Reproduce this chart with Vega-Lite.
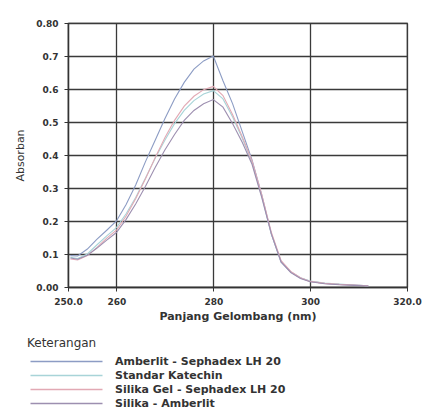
{
  "$schema": "https://vega.github.io/schema/vega-lite/v6.json",
  "width": 339,
  "height": 264,
  "autosize": {"type": "none"},
  "padding": {"left": 68, "top": 23, "right": 22, "bottom": 127},
  "background": "white",
  "config": {
    "font": "DejaVu Sans",
    "view": {"stroke": "#444", "strokeWidth": 1.2},
    "axis": {"gridColor": "#3a3a3a", "gridWidth": 1.3, "gridOpacity": 1, "domainColor": "#333", "domainWidth": 1.3, "tickColor": "#333", "labelColor": "#333", "titleColor": "#333"}
  },
  "data": {"values": [
    {"wavelength": 250.5, "absorbance": 0.095, "sample": "Amberlit - Sephadex LH 20"},
    {"wavelength": 252, "absorbance": 0.094, "sample": "Amberlit - Sephadex LH 20"},
    {"wavelength": 254, "absorbance": 0.115, "sample": "Amberlit - Sephadex LH 20"},
    {"wavelength": 256, "absorbance": 0.145, "sample": "Amberlit - Sephadex LH 20"},
    {"wavelength": 258, "absorbance": 0.172, "sample": "Amberlit - Sephadex LH 20"},
    {"wavelength": 260, "absorbance": 0.2, "sample": "Amberlit - Sephadex LH 20"},
    {"wavelength": 262, "absorbance": 0.25, "sample": "Amberlit - Sephadex LH 20"},
    {"wavelength": 264, "absorbance": 0.31, "sample": "Amberlit - Sephadex LH 20"},
    {"wavelength": 266, "absorbance": 0.38, "sample": "Amberlit - Sephadex LH 20"},
    {"wavelength": 268, "absorbance": 0.445, "sample": "Amberlit - Sephadex LH 20"},
    {"wavelength": 270, "absorbance": 0.51, "sample": "Amberlit - Sephadex LH 20"},
    {"wavelength": 272, "absorbance": 0.57, "sample": "Amberlit - Sephadex LH 20"},
    {"wavelength": 274, "absorbance": 0.62, "sample": "Amberlit - Sephadex LH 20"},
    {"wavelength": 276, "absorbance": 0.66, "sample": "Amberlit - Sephadex LH 20"},
    {"wavelength": 278, "absorbance": 0.685, "sample": "Amberlit - Sephadex LH 20"},
    {"wavelength": 280, "absorbance": 0.7, "sample": "Amberlit - Sephadex LH 20"},
    {"wavelength": 282, "absorbance": 0.625, "sample": "Amberlit - Sephadex LH 20"},
    {"wavelength": 284, "absorbance": 0.555, "sample": "Amberlit - Sephadex LH 20"},
    {"wavelength": 286, "absorbance": 0.47, "sample": "Amberlit - Sephadex LH 20"},
    {"wavelength": 288, "absorbance": 0.385, "sample": "Amberlit - Sephadex LH 20"},
    {"wavelength": 290, "absorbance": 0.28, "sample": "Amberlit - Sephadex LH 20"},
    {"wavelength": 292, "absorbance": 0.16, "sample": "Amberlit - Sephadex LH 20"},
    {"wavelength": 294, "absorbance": 0.075, "sample": "Amberlit - Sephadex LH 20"},
    {"wavelength": 296, "absorbance": 0.045, "sample": "Amberlit - Sephadex LH 20"},
    {"wavelength": 298, "absorbance": 0.027, "sample": "Amberlit - Sephadex LH 20"},
    {"wavelength": 300, "absorbance": 0.017, "sample": "Amberlit - Sephadex LH 20"},
    {"wavelength": 303, "absorbance": 0.011, "sample": "Amberlit - Sephadex LH 20"},
    {"wavelength": 306, "absorbance": 0.008, "sample": "Amberlit - Sephadex LH 20"},
    {"wavelength": 309, "absorbance": 0.006, "sample": "Amberlit - Sephadex LH 20"},
    {"wavelength": 312, "absorbance": 0.004, "sample": "Amberlit - Sephadex LH 20"},
    {"wavelength": 250.5, "absorbance": 0.09, "sample": "Standar Katechin"},
    {"wavelength": 252, "absorbance": 0.086, "sample": "Standar Katechin"},
    {"wavelength": 254, "absorbance": 0.1, "sample": "Standar Katechin"},
    {"wavelength": 256, "absorbance": 0.128, "sample": "Standar Katechin"},
    {"wavelength": 258, "absorbance": 0.155, "sample": "Standar Katechin"},
    {"wavelength": 260, "absorbance": 0.18, "sample": "Standar Katechin"},
    {"wavelength": 262, "absorbance": 0.222, "sample": "Standar Katechin"},
    {"wavelength": 264, "absorbance": 0.272, "sample": "Standar Katechin"},
    {"wavelength": 266, "absorbance": 0.33, "sample": "Standar Katechin"},
    {"wavelength": 268, "absorbance": 0.39, "sample": "Standar Katechin"},
    {"wavelength": 270, "absorbance": 0.445, "sample": "Standar Katechin"},
    {"wavelength": 272, "absorbance": 0.495, "sample": "Standar Katechin"},
    {"wavelength": 274, "absorbance": 0.535, "sample": "Standar Katechin"},
    {"wavelength": 276, "absorbance": 0.565, "sample": "Standar Katechin"},
    {"wavelength": 278, "absorbance": 0.585, "sample": "Standar Katechin"},
    {"wavelength": 280, "absorbance": 0.595, "sample": "Standar Katechin"},
    {"wavelength": 282, "absorbance": 0.57, "sample": "Standar Katechin"},
    {"wavelength": 284, "absorbance": 0.515, "sample": "Standar Katechin"},
    {"wavelength": 286, "absorbance": 0.45, "sample": "Standar Katechin"},
    {"wavelength": 288, "absorbance": 0.378, "sample": "Standar Katechin"},
    {"wavelength": 290, "absorbance": 0.275, "sample": "Standar Katechin"},
    {"wavelength": 292, "absorbance": 0.16, "sample": "Standar Katechin"},
    {"wavelength": 294, "absorbance": 0.078, "sample": "Standar Katechin"},
    {"wavelength": 296, "absorbance": 0.046, "sample": "Standar Katechin"},
    {"wavelength": 298, "absorbance": 0.028, "sample": "Standar Katechin"},
    {"wavelength": 300, "absorbance": 0.018, "sample": "Standar Katechin"},
    {"wavelength": 303, "absorbance": 0.012, "sample": "Standar Katechin"},
    {"wavelength": 306, "absorbance": 0.009, "sample": "Standar Katechin"},
    {"wavelength": 309, "absorbance": 0.006, "sample": "Standar Katechin"},
    {"wavelength": 312, "absorbance": 0.004, "sample": "Standar Katechin"},
    {"wavelength": 250.5, "absorbance": 0.085, "sample": "Silika Gel - Sephadex LH 20"},
    {"wavelength": 252, "absorbance": 0.082, "sample": "Silika Gel - Sephadex LH 20"},
    {"wavelength": 254, "absorbance": 0.095, "sample": "Silika Gel - Sephadex LH 20"},
    {"wavelength": 256, "absorbance": 0.12, "sample": "Silika Gel - Sephadex LH 20"},
    {"wavelength": 258, "absorbance": 0.148, "sample": "Silika Gel - Sephadex LH 20"},
    {"wavelength": 260, "absorbance": 0.172, "sample": "Silika Gel - Sephadex LH 20"},
    {"wavelength": 262, "absorbance": 0.215, "sample": "Silika Gel - Sephadex LH 20"},
    {"wavelength": 264, "absorbance": 0.268, "sample": "Silika Gel - Sephadex LH 20"},
    {"wavelength": 266, "absorbance": 0.328, "sample": "Silika Gel - Sephadex LH 20"},
    {"wavelength": 268, "absorbance": 0.392, "sample": "Silika Gel - Sephadex LH 20"},
    {"wavelength": 270, "absorbance": 0.452, "sample": "Silika Gel - Sephadex LH 20"},
    {"wavelength": 272, "absorbance": 0.505, "sample": "Silika Gel - Sephadex LH 20"},
    {"wavelength": 274, "absorbance": 0.548, "sample": "Silika Gel - Sephadex LH 20"},
    {"wavelength": 276, "absorbance": 0.578, "sample": "Silika Gel - Sephadex LH 20"},
    {"wavelength": 278, "absorbance": 0.598, "sample": "Silika Gel - Sephadex LH 20"},
    {"wavelength": 280, "absorbance": 0.608, "sample": "Silika Gel - Sephadex LH 20"},
    {"wavelength": 282, "absorbance": 0.58, "sample": "Silika Gel - Sephadex LH 20"},
    {"wavelength": 284, "absorbance": 0.522, "sample": "Silika Gel - Sephadex LH 20"},
    {"wavelength": 286, "absorbance": 0.455, "sample": "Silika Gel - Sephadex LH 20"},
    {"wavelength": 288, "absorbance": 0.382, "sample": "Silika Gel - Sephadex LH 20"},
    {"wavelength": 290, "absorbance": 0.28, "sample": "Silika Gel - Sephadex LH 20"},
    {"wavelength": 292, "absorbance": 0.165, "sample": "Silika Gel - Sephadex LH 20"},
    {"wavelength": 294, "absorbance": 0.08, "sample": "Silika Gel - Sephadex LH 20"},
    {"wavelength": 296, "absorbance": 0.047, "sample": "Silika Gel - Sephadex LH 20"},
    {"wavelength": 298, "absorbance": 0.028, "sample": "Silika Gel - Sephadex LH 20"},
    {"wavelength": 300, "absorbance": 0.017, "sample": "Silika Gel - Sephadex LH 20"},
    {"wavelength": 303, "absorbance": 0.011, "sample": "Silika Gel - Sephadex LH 20"},
    {"wavelength": 306, "absorbance": 0.008, "sample": "Silika Gel - Sephadex LH 20"},
    {"wavelength": 309, "absorbance": 0.006, "sample": "Silika Gel - Sephadex LH 20"},
    {"wavelength": 312, "absorbance": 0.004, "sample": "Silika Gel - Sephadex LH 20"},
    {"wavelength": 250.5, "absorbance": 0.088, "sample": "Silika - Amberlit"},
    {"wavelength": 252, "absorbance": 0.084, "sample": "Silika - Amberlit"},
    {"wavelength": 254, "absorbance": 0.096, "sample": "Silika - Amberlit"},
    {"wavelength": 256, "absorbance": 0.118, "sample": "Silika - Amberlit"},
    {"wavelength": 258, "absorbance": 0.142, "sample": "Silika - Amberlit"},
    {"wavelength": 260, "absorbance": 0.165, "sample": "Silika - Amberlit"},
    {"wavelength": 262, "absorbance": 0.205, "sample": "Silika - Amberlit"},
    {"wavelength": 264, "absorbance": 0.252, "sample": "Silika - Amberlit"},
    {"wavelength": 266, "absorbance": 0.305, "sample": "Silika - Amberlit"},
    {"wavelength": 268, "absorbance": 0.362, "sample": "Silika - Amberlit"},
    {"wavelength": 270, "absorbance": 0.415, "sample": "Silika - Amberlit"},
    {"wavelength": 272, "absorbance": 0.462, "sample": "Silika - Amberlit"},
    {"wavelength": 274, "absorbance": 0.505, "sample": "Silika - Amberlit"},
    {"wavelength": 276, "absorbance": 0.535, "sample": "Silika - Amberlit"},
    {"wavelength": 278, "absorbance": 0.555, "sample": "Silika - Amberlit"},
    {"wavelength": 280, "absorbance": 0.568, "sample": "Silika - Amberlit"},
    {"wavelength": 282, "absorbance": 0.545, "sample": "Silika - Amberlit"},
    {"wavelength": 284, "absorbance": 0.495, "sample": "Silika - Amberlit"},
    {"wavelength": 286, "absorbance": 0.438, "sample": "Silika - Amberlit"},
    {"wavelength": 288, "absorbance": 0.372, "sample": "Silika - Amberlit"},
    {"wavelength": 290, "absorbance": 0.272, "sample": "Silika - Amberlit"},
    {"wavelength": 292, "absorbance": 0.16, "sample": "Silika - Amberlit"},
    {"wavelength": 294, "absorbance": 0.076, "sample": "Silika - Amberlit"},
    {"wavelength": 296, "absorbance": 0.044, "sample": "Silika - Amberlit"},
    {"wavelength": 298, "absorbance": 0.026, "sample": "Silika - Amberlit"},
    {"wavelength": 300, "absorbance": 0.016, "sample": "Silika - Amberlit"},
    {"wavelength": 303, "absorbance": 0.01, "sample": "Silika - Amberlit"},
    {"wavelength": 306, "absorbance": 0.007, "sample": "Silika - Amberlit"},
    {"wavelength": 309, "absorbance": 0.005, "sample": "Silika - Amberlit"},
    {"wavelength": 312, "absorbance": 0.003, "sample": "Silika - Amberlit"}
  ]},
  "mark": {"type": "line", "strokeWidth": 1.1},
  "encoding": {
    "x": {
      "field": "wavelength", "type": "quantitative",
      "scale": {"domain": [250, 320], "nice": false, "zero": false},
      "axis": {
        "values": [250, 260, 280, 300, 320],
        "labelExpr": "datum.value == 250 ? '250.0' : datum.value == 320 ? '320.0' : datum.label",
        "title": "Panjang Gelombang (nm)",
        "titleFontSize": 11, "titleFontWeight": "bold", "titlePadding": 4,
        "labelFontSize": 9, "labelFontWeight": "bold", "labelPadding": 6,
        "tickSize": 4, "labelFlush": false
      }
    },
    "y": {
      "field": "absorbance", "type": "quantitative",
      "scale": {"domain": [0, 0.8], "nice": false},
      "axis": {
        "values": [0, 0.1, 0.2, 0.3, 0.4, 0.5, 0.6, 0.7, 0.8],
        "labelExpr": "datum.value == 0 ? '0.00' : datum.value == 0.8 ? '0.80' : format(datum.value, '.1f')",
        "title": "Absorban", "titleFontSize": 11, "titleFontWeight": "normal", "titlePadding": 10,
        "labelFontSize": 9, "labelFontWeight": "bold", "labelPadding": 6,
        "tickSize": 4
      }
    },
    "color": {
      "field": "sample", "type": "nominal",
      "scale": {
        "domain": ["Amberlit - Sephadex LH 20", "Standar Katechin", "Silika Gel - Sephadex LH 20", "Silika - Amberlit"],
        "range": ["#8c9cc4", "#a8d4d8", "#e2a9b4", "#9d8fb0"]
      },
      "legend": {
        "title": "Keterangan", "orient": "none", "legendX": -41, "legendY": 315,
        "direction": "vertical", "padding": 0,
        "titleFontSize": 12, "titleFontWeight": "normal", "titleColor": "#333", "titlePadding": 6,
        "labelFontSize": 11, "labelFontWeight": "bold", "labelColor": "#333", "labelLimit": 300,
        "symbolType": "M-1,0H35", "symbolSize": 16, "symbolStrokeWidth": 1.5, "symbolFillColor": "transparent",
        "symbolOffset": 0,
        "labelOffset": 77, "rowPadding": 2
      }
    }
  }
}
